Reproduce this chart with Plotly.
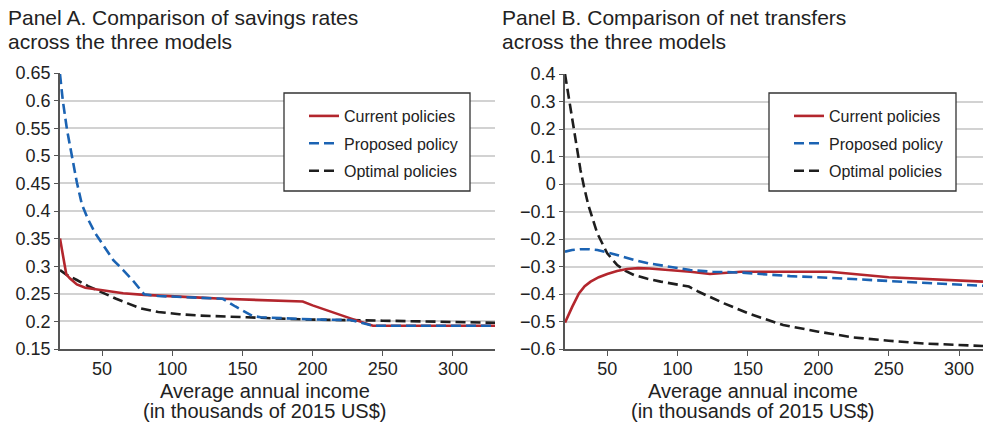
import plotly.graph_objects as go

# ---- Panel A: savings rates by average annual income (thousands of 2015 US$) ----
income_a_current = [20, 24.5, 27, 32, 38, 50, 65, 80, 100, 120, 136, 165, 193, 200, 210, 227, 243, 330]
savings_current = [0.350, 0.285, 0.278, 0.267, 0.261, 0.256, 0.251, 0.248, 0.245, 0.243, 0.241, 0.238,
                   0.236, 0.229, 0.220, 0.2055, 0.192, 0.192]

income_a_proposed = [20, 22, 25, 28.5, 32, 35.6, 40, 45, 50, 58, 65, 72, 80, 90, 100, 120, 136, 145,
                     157, 163, 200, 227, 243, 330]
savings_proposed = [0.648, 0.600, 0.547, 0.498, 0.452, 0.412, 0.385, 0.360, 0.341, 0.311, 0.293, 0.274,
                    0.249, 0.246, 0.245, 0.243, 0.241, 0.227, 0.210, 0.2075, 0.2036, 0.2025, 0.192, 0.192]

income_a_optimal = [20, 25, 32, 40, 48.6, 60, 77, 90, 105, 120, 153, 193, 250, 290, 330]
savings_optimal = [0.293, 0.284, 0.275, 0.264, 0.254, 0.241, 0.224, 0.217, 0.213, 0.2105, 0.2075,
                   0.2036, 0.2013, 0.1995, 0.1975]

# ---- Panel B: net transfers by average annual income ----
income_b_current = [20, 22.5, 25.2, 29.9, 34, 38.2, 44, 50, 57, 64, 72, 80, 97, 109, 123, 135, 145,
                    180, 208, 250, 317]
transfers_current = [-0.504, -0.475, -0.446, -0.398, -0.372, -0.355, -0.339, -0.327, -0.316, -0.309,
                     -0.306, -0.307, -0.313, -0.319, -0.327, -0.322, -0.319, -0.319, -0.319, -0.339,
                     -0.355]

income_b_proposed = [20, 25, 31, 37, 43, 50, 57, 63, 69, 80, 92.5, 109, 125, 145, 180, 208, 251, 317]
transfers_proposed = [-0.246, -0.240, -0.237, -0.237, -0.240, -0.248, -0.258, -0.267, -0.276, -0.289,
                      -0.300, -0.313, -0.319, -0.322, -0.335, -0.341, -0.353, -0.370]

income_b_optimal = [20, 22.8, 26.8, 31, 33.5, 36.5, 42.9, 50, 57.1, 63, 69, 78, 88, 100, 108, 115,
                    124, 133, 150, 175, 200, 225, 250, 275, 317]
transfers_optimal = [0.400, 0.312, 0.196, 0.051, -0.010, -0.075, -0.179, -0.252, -0.295, -0.316,
                     -0.331, -0.344, -0.355, -0.366, -0.373, -0.392, -0.414, -0.434, -0.470, -0.513,
                     -0.537, -0.558, -0.570, -0.580, -0.589]

# ---- Axis ticks and labels ----
x_ticks = [50, 100, 150, 200, 250, 300]
y_ticks_a = [0.15, 0.2, 0.25, 0.3, 0.35, 0.4, 0.45, 0.5, 0.55, 0.6, 0.65]
y_labels_a = ["0.15", "0.2", "0.25", "0.3", "0.35", "0.4", "0.45", "0.5", "0.55", "0.6", "0.65"]
y_ticks_b = [-0.6, -0.5, -0.4, -0.3, -0.2, -0.1, 0, 0.1, 0.2, 0.3, 0.4]
y_labels_b = ["\u22120.6", "\u22120.5", "\u22120.4", "\u22120.3", "\u22120.2", "\u22120.1",
              "0", "0.1", "0.2", "0.3", "0.4"]

series_names = ["Current policies", "Proposed policy", "Optimal policies"]
panel_titles = [
    ["Panel A. Comparison of savings rates", "across the three models"],
    ["Panel B. Comparison of net transfers", "across the three models"],
]
x_title_lines = ["Average annual income", "(in thousands of 2015 US$)"]

RED = "#b3262d"
BLUE = "#1b63b3"
BLACK = "#1e1e1e"
FONT = "Liberation Sans, Arial, sans-serif"
TEXT = "#222222"

W, H = 985, 426

fig = go.Figure()

styles = [
    dict(color=RED, width=2.6),
    dict(color=BLUE, width=2.6, dash="10px,5px"),
    dict(color=BLACK, width=2.6, dash="10px,5px"),
]

panel_a = [(income_a_current, savings_current), (income_a_proposed, savings_proposed),
           (income_a_optimal, savings_optimal)]
panel_b = [(income_b_current, transfers_current), (income_b_proposed, transfers_proposed),
           (income_b_optimal, transfers_optimal)]

# draw order: optimal underneath, then current, then proposed on top
order = [2, 0, 1]
for i in order:
    xs, ys = panel_a[i]
    fig.add_trace(go.Scatter(x=xs, y=ys, mode="lines", name=series_names[i], line=styles[i],
                             xaxis="x", yaxis="y", legend="legend", legendgroup="a%d" % i,
                             legendrank=i + 1))
for i in order:
    xs, ys = panel_b[i]
    fig.add_trace(go.Scatter(x=xs, y=ys, mode="lines", name=series_names[i], line=styles[i],
                             xaxis="x2", yaxis="y2", legend="legend2", legendgroup="b%d" % i,
                             legendrank=i + 1))


def px_x(p):
    return p / W


def px_y(p):
    return (H - p) / H


axis_common = dict(showline=True, linecolor="#555555", linewidth=1.5, ticks="outside",
                   tickcolor="#555555", tickwidth=1.3, zeroline=False, automargin=False,
                   tickfont=dict(family=FONT, size=18, color=TEXT))

legend_common = dict(xanchor="left", yanchor="top", bgcolor="rgba(0,0,0,0)", borderwidth=0,
                     tracegroupgap=3.6, font=dict(family=FONT, size=16, color=TEXT))

fig.update_layout(
    width=W, height=H,
    margin=dict(l=0, r=0, t=0, b=0),
    paper_bgcolor="white", plot_bgcolor="white",
    font=dict(family=FONT, color=TEXT),
    xaxis=dict(domain=[px_x(60), px_x(495)], range=[20, 330], tickvals=x_ticks,
               showgrid=False, ticklen=5, ticklabelstandoff=-2, anchor="y", **axis_common),
    yaxis=dict(domain=[px_y(349), px_y(73)], range=[0.15, 0.65], tickvals=y_ticks_a,
               ticktext=y_labels_a, showgrid=True, gridcolor="#d2d2d2", gridwidth=1.5,
               ticklen=4, anchor="x", **axis_common),
    xaxis2=dict(domain=[px_x(565), px_x(983)], range=[20, 317], tickvals=x_ticks,
                showgrid=False, ticklen=5, ticklabelstandoff=-2, anchor="y2", **axis_common),
    yaxis2=dict(domain=[px_y(349), px_y(74)], range=[-0.6, 0.4], tickvals=y_ticks_b,
                ticktext=y_labels_b, showgrid=True, gridcolor="#d2d2d2", gridwidth=1.5,
                ticklen=4, anchor="x2", **axis_common),
    legend=dict(x=px_x(304), y=px_y(99), **legend_common),
    legend2=dict(x=px_x(789), y=px_y(99), **legend_common),
    shapes=[
        dict(type="rect", xref="paper", yref="paper", x0=px_x(284), x1=px_x(470),
             y0=px_y(191), y1=px_y(93), line=dict(color="#333333", width=1.3),
             fillcolor="white", layer="above"),
        dict(type="rect", xref="paper", yref="paper", x0=px_x(769), x1=px_x(956),
             y0=px_y(191), y1=px_y(93), line=dict(color="#333333", width=1.3),
             fillcolor="white", layer="above"),
    ],
)


def add_text(x, y, txt, size, anchor):
    fig.add_annotation(x=px_x(x), y=px_y(y), xref="paper", yref="paper", xanchor=anchor,
                       yanchor="middle", showarrow=False, text=txt,
                       font=dict(family=FONT, size=size, color=TEXT))


# panel titles, one annotation per line for tight line spacing
for x0, lines in zip((6, 500), panel_titles):
    add_text(x0, 17.7, lines[0], 21, "left")
    add_text(x0, 42.0, lines[1], 21, "left")

# x-axis titles
for xc in (265, 753):
    add_text(xc, 391, x_title_lines[0], 20, "center")
    add_text(xc, 411, x_title_lines[1], 20, "center")

fig.write_html("out.html")
